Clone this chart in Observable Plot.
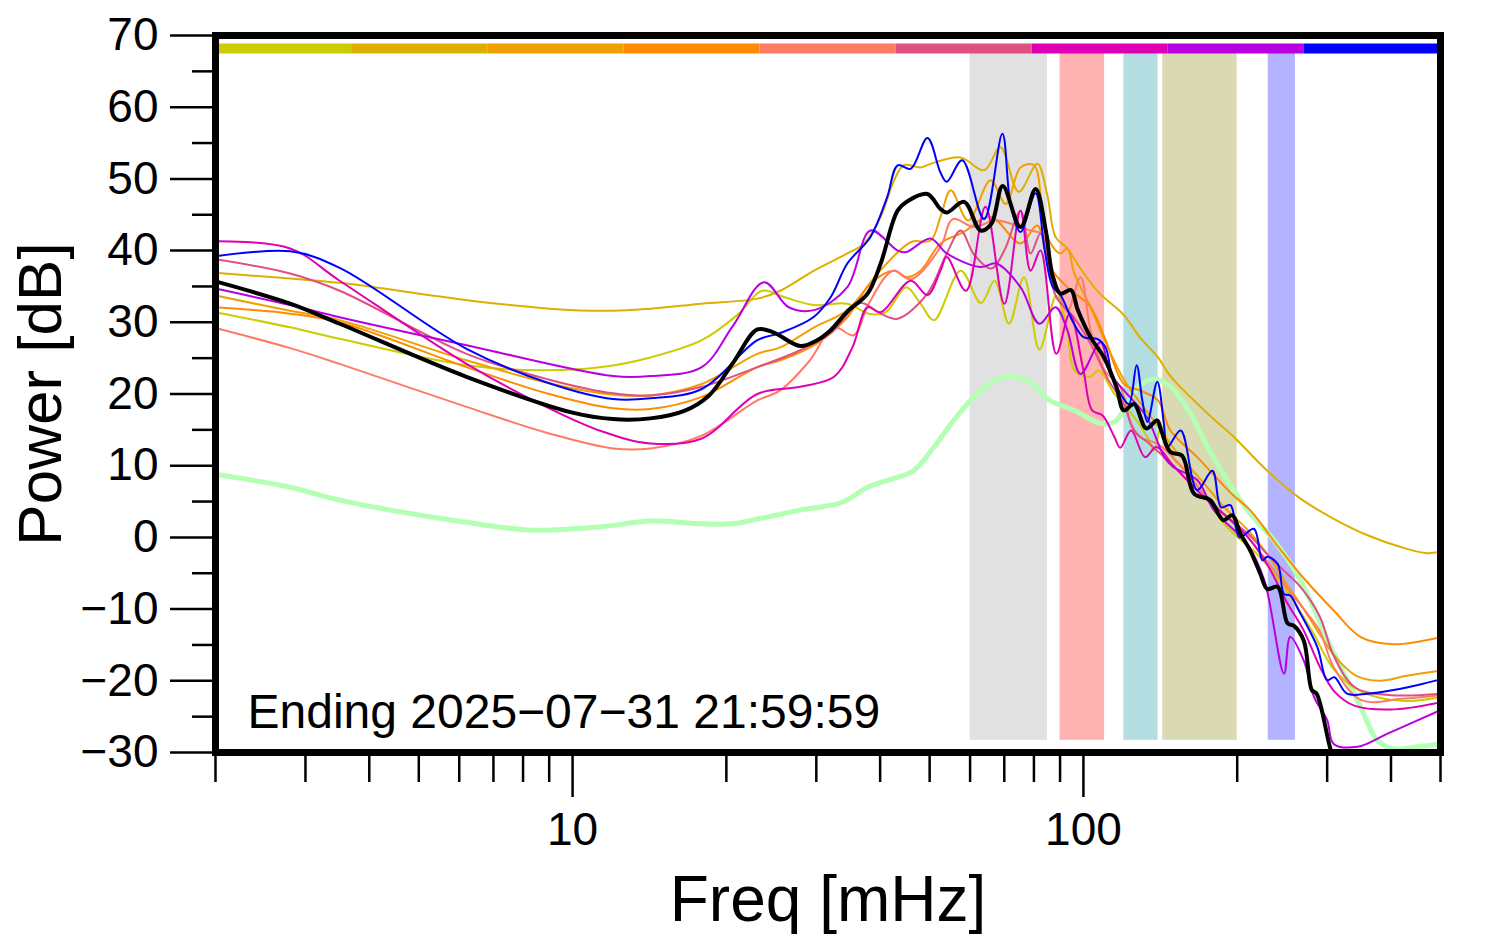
<!DOCTYPE html>
<html><head><meta charset="utf-8">
<script src="https://cdn.jsdelivr.net/npm/d3@7"></script>
<script src="https://cdn.jsdelivr.net/npm/@observablehq/plot@0.6"></script>
<style>
html,body{margin:0;padding:0;background:#fff;overflow:hidden}
#chart svg{display:block}
</style></head><body><div id="chart"></div>
<script>
// ---- data (freq in mHz, power in dB) ----
const hourColors = ["#cccc00","#ddb000","#f0a000","#ff8c00","#ff7b66","#e05080","#e000b4","#b800e0","#0000ff"];

const yellowGreen = [[2,31.4],[2.8,29.3],[3.5,27.7],[6.2,24.0],[8.7,23.3],[11.4,23.75],[14.2,25.1],[17.9,27.5],[21,31],[23.5,34.4],[26,33.5],[29.7,32.4],[34.5,32.6],[38,31.2],[41,31.4],[45,34.9],[48,32.6],[51,30.3],[57.5,37.2],[63,32.7],[67,35.8],[71.5,29.8],[76.5,36.3],[82,26.2],[88.5,33.7],[93,28.9],[96,23.3],[103,22.4],[107,23.3],[115,20],[125,17],[133.4,14.0],[137.5,12.1],[142,15.4],[150,11],[160,9],[175,5.2],[186,2.4],[197,0.5],[220,-2.5],[250,-7.5],[280,-13],[310,-18.5],[350,-21.5],[420,-22.8],[500,-22.3]];
const gold = [[2,36.9],[2.8,36.1],[3.5,35.5],[6.2,33.1],[9,31.9],[12,31.6],[14.2,31.9],[17.9,32.6],[23,33.3],[25.5,34.4],[29.7,37.2],[34.5,39.6],[37.2,41.0],[40.1,44.7],[42.6,49.8],[44.5,51.9],[48,51.6],[50.2,52.1],[57.5,53.0],[63.9,51.2],[68.8,54.4],[74.7,48.2],[81.2,52.1],[84.9,47.9],[88.2,41.9],[93,40.3],[98.7,37.5],[107,34.2],[120,31],[129,27.9],[140,25.1],[148,22.5],[178,16.8],[197,14.0],[229,9.3],[266,5.4],[309,2.6],[360,0.3],[418,-1.35],[470,-2.2],[500,-2.0]];
const orange = [[2,33.75],[2.8,31.6],[3.5,30.3],[6.2,24.7],[9,21.5],[12,19.9],[14.2,19.8],[17.9,21.4],[23,25.6],[25.5,26.5],[29.7,29.3],[34.5,31.7],[40,37.2],[46,41.2],[50.2,41.4],[52.5,44.7],[55,48.4],[59.5,44.2],[65.8,49.8],[70.5,46.5],[75.3,51.6],[80,51.9],[84.4,42.4],[90,39.6],[93,40.3],[96,36.8],[103.3,32.1],[110,27.5],[120,22],[130,18.5],[140,15.5],[150,12.5],[170,8],[190,4],[210,1],[230,-2.5],[250,-6.5],[270,-10],[290,-13.5],[310,-16.5],[340,-19.2],[380,-20],[430,-19.3],[500,-18.6]];
const darkOrange = [[2,32.1],[2.8,31.2],[3.5,30.0],[6.2,23.75],[9,20],[12,18.0],[14.2,17.9],[17.9,19.6],[23,23.75],[25.5,24.7],[30,27],[34.5,30.7],[38.3,35.4],[42.6,37.2],[45,36.3],[48,37.2],[52.5,41.0],[58,42.5],[65.8,44.7],[75.3,41.0],[81.2,43.5],[86,37.7],[93,34.9],[103.3,32.1],[110,27.9],[120,21.4],[129,20.5],[140,19.1],[148,14.9],[167,11.2],[195,6.1],[212,3.8],[240,-1.2],[270,-5.7],[309,-10.2],[349,-13.9],[405,-14.9],[500,-13.9]];
const salmon = [[2,29.2],[2.8,26.4],[3.5,24.2],[6.2,18.2],[9,14.5],[12,12.4],[14.2,12.4],[17.9,14.2],[23,19.1],[25.5,20.5],[29,24.5],[32.5,29.3],[35.5,28.2],[38,32.6],[42.4,37.2],[46,36],[52.5,40.5],[55.5,44.4],[61,43.3],[67.5,44.2],[78.8,42.8],[83,42.3],[88,36],[93,31.5],[98.7,36.3],[103.3,28.9],[110,23.3],[118,21.0],[124,15.9],[129,14.0],[140,13],[155,10],[170,6.5],[190,3],[210,0],[230,-3.5],[250,-7],[270,-10],[290,-13],[309,-18.1],[350,-22.7],[420,-22.5],[500,-22]];
const rose = [[2,38.8],[2.8,36.8],[3.5,34.4],[6.2,25.6],[9,22],[12,20.1],[14.2,19.8],[17.9,21.0],[23,23.75],[27.9,26.1],[32,28.5],[36.6,32.7],[40.1,31.2],[43.3,30.5],[49.5,34.0],[54,39.6],[57.5,42.8],[61,39.5],[66,37.5],[70,40],[75.3,45.5],[78.8,39.6],[82.4,42.4],[86,36.8],[88.5,33.5],[95.8,30.7],[103.3,27.0],[112,21.9],[120,18.6],[125.6,14.9],[135,13],[150,10],[170,6],[190,3],[210,0.5],[230,-2.5],[250,-5],[266,-6.9],[290,-11],[309,-16.5],[340,-20.9],[400,-22],[500,-21.8]];
const magenta = [[2,41.3],[2.8,40.3],[3.5,35.8],[6.2,24.2],[9,18],[11.4,14.8],[14.2,13.1],[17.9,13.8],[23,20.0],[27.9,21.0],[32.5,22.4],[35.3,26.5],[37.8,32.1],[40.1,31.4],[45.9,35.8],[49.5,33.8],[52.5,37.2],[54,39.1],[58.9,34.4],[64.3,46.1],[70,32.6],[75.3,45.6],[78.8,37.2],[82.4,40.0],[88.5,25.6],[94,31.2],[100,23.3],[104,17.7],[109,17.0],[115,14.0],[118,12.5],[124,14.9],[132,11.2],[139,12.6],[150,10],[170,6],[190,3],[210,0],[230,-4],[250,-9],[270,-13],[290,-18],[310,-21.5],[340,-23.5],[400,-24],[500,-23]];
const purple = [[2,34.7],[2.8,32.4],[3.5,30.7],[6.2,26.8],[12,22.5],[14.2,22.5],[17.9,23.75],[20.6,29.5],[23.7,35.6],[26.5,32.1],[29.7,31.7],[34.5,34.9],[38.3,42.8],[43.3,40.0],[45,39.8],[50.2,41.7],[54,39.6],[62.9,37.7],[67.5,38.2],[75.3,34.9],[82,29.8],[88.2,32.1],[93,28.9],[98.7,22.8],[108,27.2],[113,22.8],[120,20.5],[133,16.8],[144,11.2],[150,9.8],[167,8.0],[180,3.8],[209,-0.9],[226,-6],[247,-19],[254,-13.9],[270,-17.2],[283,-22.3],[300,-25.5],[309,-28.8],[344,-29.2],[393,-27.4],[500,-24.1]];
const blue = [[2,39.2],[2.8,39.9],[3.5,37.6],[6.2,26.3],[9,21.5],[12,19.3],[14.2,19.4],[17.9,20.7],[23,27.5],[25.5,28.5],[29.6,30.7],[32,33.5],[34.5,38.2],[38.3,41.9],[41.3,47.5],[43.3,51.9],[45.9,51.4],[49.5,55.7],[52.5,50.9],[54,49.6],[57.9,52.6],[63.9,44.4],[69.4,56.3],[72,46.5],[75.3,42.6],[80.6,48.0],[84,40],[87,35],[90.2,33.8],[95.8,29.8],[100.2,27.9],[106.4,27.7],[110.5,26.5],[113.9,22.4],[119.2,19.6],[122.8,18.6],[127.1,24.0],[130.4,19.1],[133.4,16.1],[139.5,21.7],[143.7,15.9],[146,12.6],[155,14.9],[167,6.6],[178.8,9.3],[186,4.2],[194,4.5],[202,0],[215.6,1.2],[224,-3.2],[229,-2.7],[240,-3.7],[247,-7.9],[254,-8.1],[264,-10.2],[287,-15.3],[300,-19.9],[310,-19.5],[328,-21.8],[360,-21.8],[418,-21.1],[500,-19.8]];
const meanSpectrum = [[2,35.7],[2.8,32.6],[3.5,29.8],[6.2,22.4],[10,17.4],[12,16.5],[14.2,16.6],[16.5,17.6],[18.5,19.8],[20.6,24.3],[23,29.0],[24.7,28.6],[27.9,26.7],[30.1,27.5],[32,28.9],[34.5,31.5],[37.8,34.0],[40.1,38.2],[43.3,45.6],[45.5,47.0],[49.5,47.9],[52.5,45.8],[54,45.3],[58.4,46.8],[62.9,42.8],[66,43.7],[69.5,49.0],[75.3,43.3],[80.6,48.6],[84.4,42.8],[87,36.5],[90.2,34.0],[94.5,34.5],[97.5,31.7],[103.3,27.9],[109.7,25.1],[116,21.0],[120,17.7],[125.6,18.6],[132.7,15.2],[139.4,16.3],[142,14.9],[148,11.9],[156,11.4],[164.6,6.1],[177,5.2],[188,2.4],[195.6,3.1],[203,0.5],[212,-1.8],[222,-5.1],[229,-7.2],[240,-6.9],[251,-12.0],[258,-12.3],[270,-14.4],[280,-21.3],[286,-21.8],[305,-29.7],[320,-34]];
const noiseModel = [[2,8.8],[2.8,7.0],[3.5,5.2],[6.2,2.1],[8.4,1.0],[11.4,1.5],[14.2,2.3],[17.9,1.9],[20.6,1.9],[23.5,2.7],[27.9,3.8],[33.7,4.9],[37.8,7.0],[42.4,8.2],[46.5,9.3],[51,12.6],[55.7,16.3],[61,19.6],[66,21.5],[70.6,22.4],[77.7,21.9],[86,19.1],[96,17.7],[108,15.9],[115,16.1],[129,21.2],[137.5,22.1],[148,21],[162,17.3],[175,12.6],[191,8.0],[212,3.3],[236,-0.4],[266,-6],[305,-15.3],[349,-23.7],[376,-28.3],[405,-29.5],[450,-29.2],[500,-28.8]];

const bandLo = [60, 90, 120, 143, 230];
const bandHi = [85, 110, 140, 200, 260];
const bandColors = ["#e1e1e1","#ffb3b3","#b3dde0","#d9d9b3","#b3b3ff"];

const yMajor = [-30,-20,-10,0,10,20,30,40,50,60,70];
const yMinor = [-25,-15,-5,5,15,25,35,45,55,65];
const xMajor = [10, 100];
const xMinor = [2,3,4,5,6,7,8,9,20,30,40,50,60,70,80,90,200,300,400,500];

const endingText = "Ending 2025\u221207\u221231 21:59:59";
const xTitle = "Freq [mHz]";
const yTitle = "Power [dB]";

// ---- build ----
const FONT = "'Liberation Sans', Arial, Helvetica, sans-serif";
const bands = bandLo.map((lo, i) => ({lo, hi: bandHi[i], fill: bandColors[i]}));
const edges = d3.range(10).map(i => 2 * Math.pow(500 / 2, i / 9));
const barSegs = hourColors.map((c, i) => ({x1: edges[i], x2: edges[i + 1], c}));

const hourSeries = [yellowGreen, gold, orange, darkOrange, salmon, rose, magenta, purple, blue];

const lineOpts = (color, w) => ({x: d => d[0], y: d => d[1], stroke: color, strokeWidth: w, curve: "catmull-rom", clip: true, strokeLinejoin: "round"});

const plot = Plot.plot({
  width: 1494, height: 952,
  marginLeft: 215, marginRight: 54, marginTop: 35, marginBottom: 200,
  style: {fontFamily: FONT, background: "white", color: "black", overflow: "visible"},
  x: {type: "log", domain: [2, 500]},
  y: {domain: [-30, 70]},
  color: {type: "identity"},
  marks: [
    Plot.rect(bands, {x1: "lo", x2: "hi", y1: -28.3, y2: 67.6, fill: "fill"}),
    Plot.ruleY(barSegs, {y: 68.2, x1: "x1", x2: "x2", stroke: "c", strokeWidth: 10}),
    Plot.line(noiseModel, lineOpts("#b3ffb3", 5)),
    ...hourSeries.map((s, i) => Plot.line(s, lineOpts(hourColors[i], 2))),
    Plot.line(meanSpectrum, lineOpts("black", 4)),
    Plot.axisY(yMajor, {anchor: "left", tickSize: 45, tickPadding: 12, fontSize: 46, strokeWidth: 2.5, label: null}),
    Plot.axisY(yMinor, {anchor: "left", tickSize: 23, strokeWidth: 2.5, tickFormat: () => "", label: null}),
    Plot.axisX(xMajor, {anchor: "bottom", tickSize: 45, tickPadding: 15, fontSize: 46, strokeWidth: 2.5, tickFormat: d => String(d), label: null}),
    Plot.axisX(xMinor, {anchor: "bottom", tickSize: 30, strokeWidth: 2.5, tickFormat: () => "", label: null}),
    Plot.text([endingText], {text: d => d, frameAnchor: "bottom-left", dx: 32, dy: -25, textAnchor: "start", lineAnchor: "bottom", fontSize: 48}),
    Plot.text([xTitle], {text: d => d, frameAnchor: "bottom", dy: 168, textAnchor: "middle", lineAnchor: "bottom", fontSize: 64}),
    Plot.text([yTitle], {text: d => d, frameAnchor: "left", dx: -155, rotate: -90, textAnchor: "middle", lineAnchor: "bottom", fontSize: 62}),
    Plot.frame({stroke: "black", strokeWidth: 7})
  ]
});
document.getElementById("chart").appendChild(plot);
</script>
</body></html>
